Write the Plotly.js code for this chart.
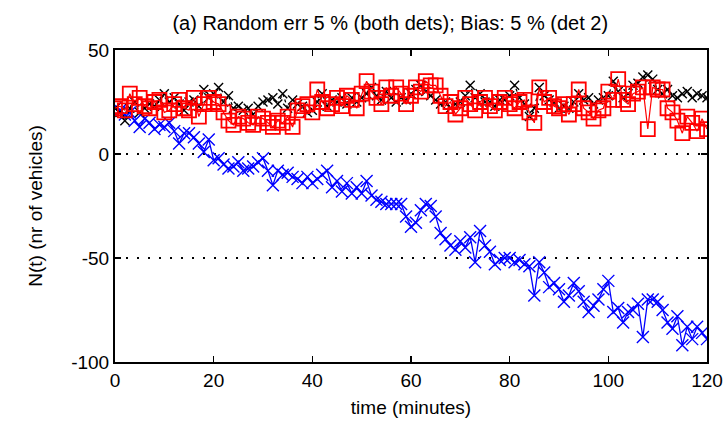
<!DOCTYPE html>
<html>
<head>
<meta charset="utf-8">
<script src="https://cdn.plot.ly/plotly-3.0.1.min.js"></script>
<style>html,body{margin:0;padding:0;background:#fff;}#chart{width:727px;height:423px;}</style>
</head>
<body>
<div id="chart"></div>
<script>
const time = Array.from({length: 121}, (_, i) => i);

const nBlack = [22,20,16,22,25,20,22,24,23,26,29,25,27,24,21,25,26,23,31,27,
  29,32,25,28,22,23,21,22,19,23,25,26,27,24,29,22,26,24,23,20,
  21,25,29,23,26,25,27,24,27,25,27,29,32,28,26,30,27,25,27,26,
  29,31,33,30,28,26,24,25,22,24,25,28,33,27,29,25,25,23,26,26,
  28,33,27,24,18,22,32,28,26,25,22,23,22,25,29,26,27,24,26,27,
  28,35,30,27,29,33,34,37,38,36,31,29,31,28,27,29,30,27,29,28,27];

const nRed = [22,23,21,29,24,27,23,22,25,26,20,21,24,26,22,21,27,18,24,27,
  25,24,20,16,14,18,17,15,14,18,17,15,13,16,15,18,13,21,23,24,
  20,31,25,22,24,27,23,28,26,22,29,35,30,27,24,32,28,32,29,24,
  28,32,30,35,33,33,28,23,25,19,22,27,24,21,25,27,23,21,25,27,
  24,22,25,26,20,15,32,25,27,23,22,24,19,24,31,22,20,17,21,22,
  30,26,36,26,24,29,30,32,12,32,31,31,22,20,16,10,18,15,11,17,12];

const nBlue = [22,21,19,20,16,13,17,15,12,14,13,15,11,5,10,10,8,5,1,7,
  -3,-2,-5,-7,-6,-4,-8,-7,-6,-4,-2,-8,-15,-8,-10,-9,-11,-12,-14,-11,
  -14,-12,-10,-8,-16,-13,-18,-14,-19,-16,-19,-13,-20,-22,-23,-24,-24,-24,-24,-30,
  -35,-33,-27,-24,-25,-30,-38,-41,-44,-46,-42,-45,-40,-52,-37,-44,-47,-53,-51,-50,
  -50,-52,-51,-53,-54,-68,-52,-57,-64,-62,-65,-71,-68,-62,-66,-71,-76,-73,-70,-65,
  -61,-76,-74,-81,-76,-75,-72,-88,-70,-70,-71,-75,-81,-84,-78,-92,-83,-89,-83,-86,-89];

const xTicks = [0,20,40,60,80,100,120];
const yTicks = [-100,-50,0,50];

const font = "Liberation Sans, Arial, sans-serif";

const traces = [
  {x: time, y: nBlue, type: 'scatter', mode: 'lines+markers',
   line: {color: '#0000ff', width: 1.3},
   marker: {symbol: 'x-thin-open', size: 12, color: '#0000ff', line: {color: '#0000ff', width: 1.4}}},
  {x: time, y: nBlack, type: 'scatter', mode: 'lines+markers',
   line: {color: '#000000', width: 1.3, dash: 'dot'},
   marker: {symbol: 'x-thin-open', size: 9, color: '#000000', line: {color: '#000000', width: 1.4}}},
  {x: time, y: nRed, type: 'scatter', mode: 'lines+markers',
   line: {color: '#ff0000', width: 1.2},
   marker: {symbol: 'square-open', size: 14, color: '#ff0000', line: {color: '#ff0000', width: 1.8}}}
];

const layout = {
  width: 727, height: 423,
  margin: {l: 115, r: 20, t: 50, b: 61},
  paper_bgcolor: '#ffffff', plot_bgcolor: '#ffffff',
  showlegend: false,
  font: {family: font, size: 18, color: '#000'},
  title: {text: '(a) Random err 5 % (both dets); Bias: 5 % (det 2)',
          font: {family: font, size: 20, color: '#000'},
          x: 0.465, xref: 'paper', xanchor: 'center', y: 0.962, yref: 'container'},
  xaxis: {range: [0, 120], tickvals: xTicks, ticktext: xTicks.map(String),
          ticks: 'inside', ticklen: 6, tickwidth: 1.5, tickcolor: '#000', showline: true, linecolor: '#000', linewidth: 2,
          mirror: 'ticks', showgrid: false, zeroline: false,
          tickfont: {family: font, size: 19, color: '#000'},
          title: {text: 'time (minutes)', font: {family: font, size: 19, color: '#000'}, standoff: 11}},
  yaxis: {range: [-100, 50], tickvals: yTicks, ticktext: yTicks.map(String),
          ticks: 'inside', ticklen: 6, tickwidth: 1.5, tickcolor: '#000', showline: true, linecolor: '#000', linewidth: 2,
          mirror: 'ticks', showgrid: true, gridcolor: '#000', griddash: '2px,9px', gridwidth: 1.5, zeroline: false,
          tickfont: {family: font, size: 19, color: '#000'},
          title: {text: 'N(t) (nr of vehicles)', font: {family: font, size: 19, color: '#000'}, standoff: 24}}
};

Plotly.newPlot('chart', traces, layout, {displayModeBar: false, staticPlot: true});
</script>
</body>
</html>
